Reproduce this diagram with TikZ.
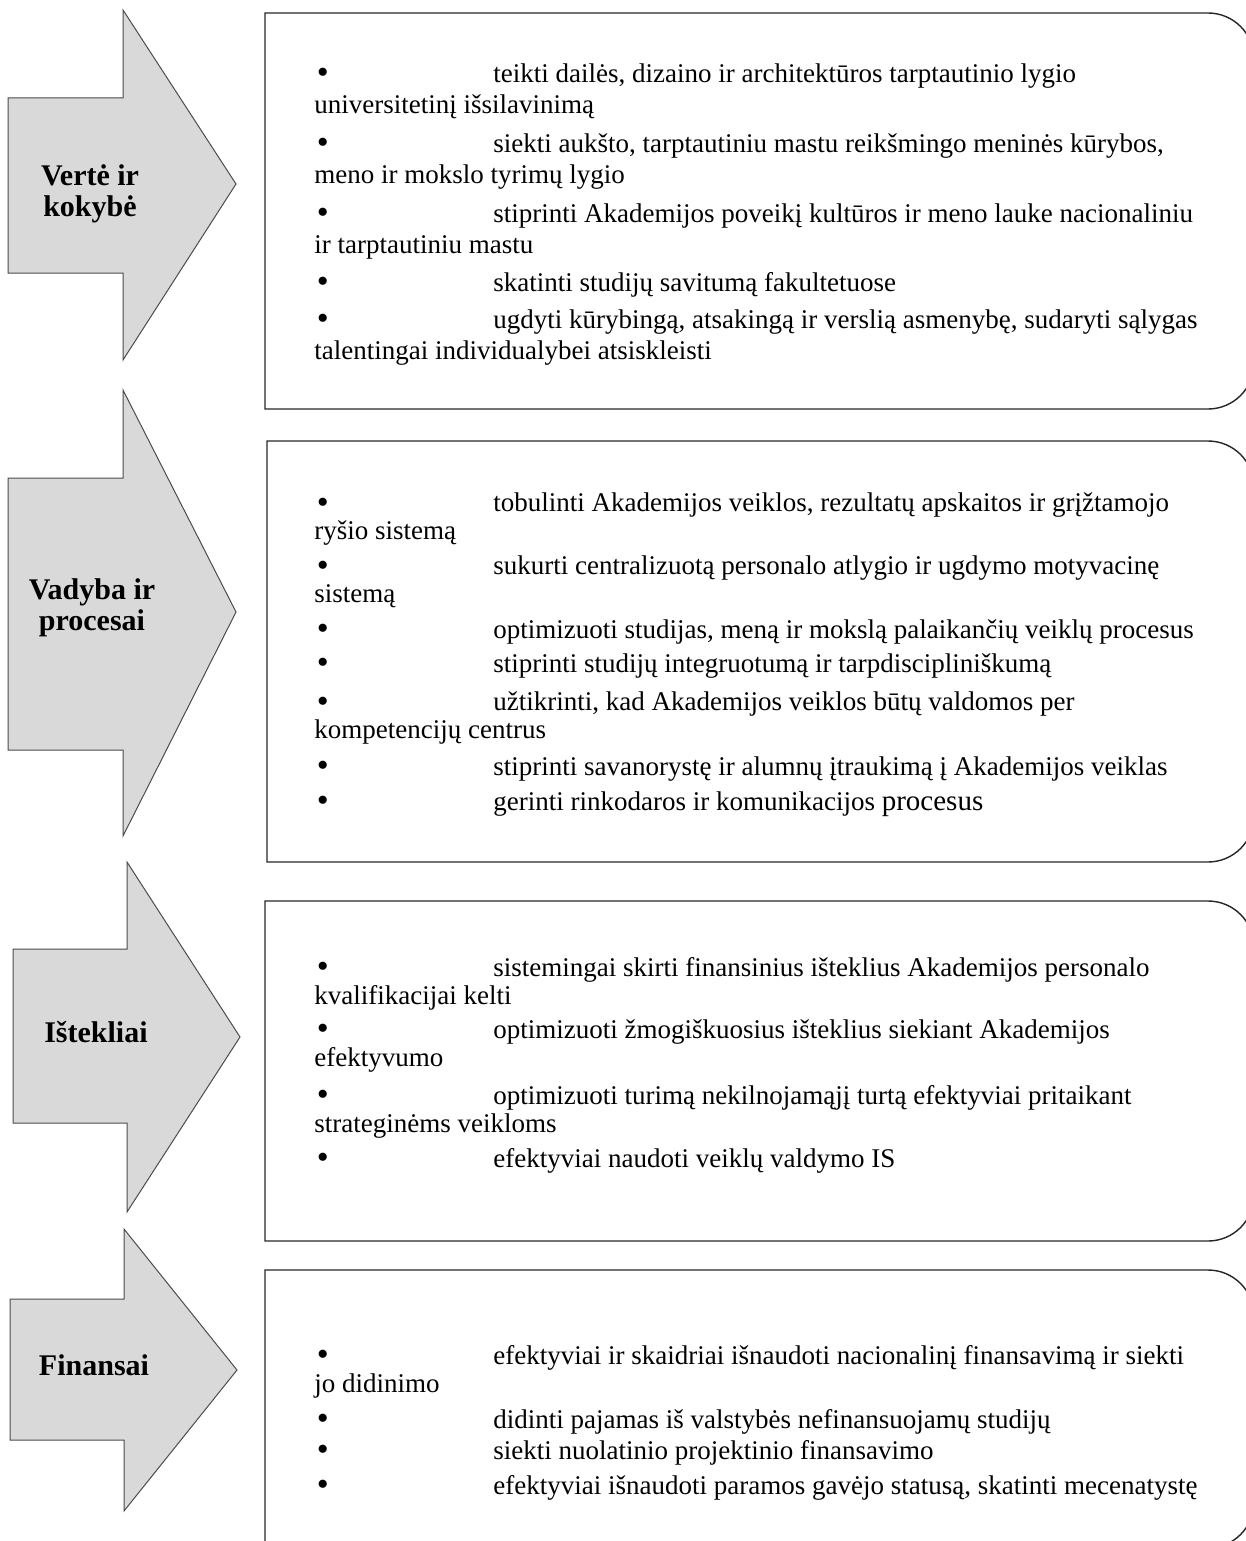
\documentclass[tikz,border=0pt]{standalone}
\usepackage{fontspec}
\setmainfont{Liberation Serif}
\definecolor{arrowgray}{HTML}{D9D9D9}
\newcommand{\bul}{\makebox[89.5pt][l]{\hspace{1.2pt}\raisebox{-0.8pt}{\fontsize{17}{17}\selectfont\textbullet}}}
\begin{document}
\begin{tikzpicture}[x=0.5pt,y=-0.5pt,
  lbl/.style={font=\fontsize{15}{15.5}\selectfont\bfseries,align=center,inner sep=0pt},
  itm/.style={anchor=base west,align=left,inner sep=0pt},
  arr/.style={fill=arrowgray,draw=black!70,line width=0.5pt},
  box/.style={draw=black!85,line width=0.7pt}]
 \useasboundingbox (0,0) rectangle (1246,1541);
 \clip (0,0) rectangle (1246,1541);

 \draw[arr] (8,98) -- (123,98) -- (123,10) -- (236,184) -- (123,360) -- (123,273) -- (8,273) -- cycle;
 \draw[arr] (8,478) -- (123,478) -- (123,390) -- (236,612) -- (123,836) -- (123,750) -- (8,750) -- cycle;
 \draw[arr] (13,949) -- (127,949) -- (127,862) -- (240,1037) -- (127,1212) -- (127,1123) -- (13,1123) -- cycle;
 \draw[arr] (10,1299) -- (124,1299) -- (124,1229) -- (237,1370) -- (124,1511) -- (124,1440) -- (10,1440) -- cycle;

 \node (vk) at (90,194) [lbl] {Vertė ir\\kokybė};
 \node (vp) at (92,608) [lbl] {Vadyba ir\\procesai};
 \node (is) at (96,1032) [lbl] {Ištekliai};
 \node (fi) at (94,1365) [lbl] {Finansai};

 \draw[box] (265,13) -- (1208,13) arc[start angle=90,end angle=0,radius=23pt] -- (1254,363) arc[start angle=0,end angle=-90,radius=23pt] -- (265,409) -- cycle;
 \draw[box] (267,441) -- (1208,441) arc[start angle=90,end angle=0,radius=23pt] -- (1254,816) arc[start angle=0,end angle=-90,radius=23pt] -- (267,862) -- cycle;
 \draw[box] (265,901) -- (1208,901) arc[start angle=90,end angle=0,radius=23pt] -- (1254,1195) arc[start angle=0,end angle=-90,radius=23pt] -- (265,1241) -- cycle;
 \draw[box] (265,1270) -- (1208,1270) arc[start angle=90,end angle=0,radius=23pt] -- (1254,1502) arc[start angle=0,end angle=-90,radius=23pt] -- (265,1548) -- cycle;

 \begin{scope}[every node/.append style={font=\fontsize{13.5}{15.5}\selectfont}]
 \node (v1) at (314,113) [itm] {\bul teikti dailės, dizaino ir architektūros tarptautinio lygio\\universitetinį išsilavinimą};
 \node (v2) at (314,183) [itm] {\bul siekti aukšto, tarptautiniu mastu reikšmingo meninės kūrybos,\\meno ir mokslo tyrimų lygio};
 \node (v3) at (314,253) [itm] {\bul stiprinti Akademijos poveikį kultūros ir meno lauke nacionaliniu\\ir tarptautiniu mastu};
 \node (v4) at (314,291) [itm] {\bul skatinti studijų savitumą fakultetuose};
 \node (v5) at (314,359) [itm] {\bul ugdyti kūrybingą, atsakingą ir verslią asmenybę, sudaryti sąlygas\\talentingai individualybei atsiskleisti};
 \end{scope}

 \begin{scope}[every node/.append style={font=\fontsize{13.5}{13.75}\selectfont}]
 \node (p1) at (314,539) [itm] {\bul tobulinti Akademijos veiklos, rezultatų apskaitos ir grįžtamojo\\ryšio sistemą};
 \node (p2) at (314,602) [itm] {\bul sukurti centralizuotą personalo atlygio ir ugdymo motyvacinę\\sistemą};
 \node (p3) at (314,638) [itm] {\bul optimizuoti studijas, meną ir mokslą palaikančių veiklų procesus};
 \node (p4) at (314,672) [itm] {\bul stiprinti studijų integruotumą ir tarpdiscipliniškumą};
 \node (p5) at (314,738) [itm] {\bul užtikrinti, kad Akademijos veiklos būtų valdomos per\\kompetencijų centrus};
 \node (p6) at (314,775) [itm] {\bul stiprinti savanorystę ir alumnų įtraukimą į Akademijos veiklas};
 \node (p7) at (314,810) [itm] {\bul gerinti rinkodaros ir komunikacijos {\fontsize{14.5}{14}\selectfont procesus}};
 \end{scope}

 \begin{scope}[every node/.append style={font=\fontsize{13.5}{14}\selectfont}]
 \node (i1) at (314,1004) [itm] {\bul sistemingai skirti finansinius išteklius Akademijos personalo\\kvalifikacijai kelti};
 \node (i2) at (314,1066) [itm] {\bul optimizuoti žmogiškuosius išteklius siekiant Akademijos\\efektyvumo};
 \node (i3) at (314,1132) [itm] {\bul optimizuoti turimą nekilnojamąjį turtą efektyviai pritaikant\\strateginėms veikloms};
 \node (i4) at (314,1167) [itm] {\bul efektyviai naudoti veiklų valdymo IS};

 \node (f1) at (314,1392) [itm] {\bul efektyviai ir skaidriai išnaudoti nacionalinį finansavimą ir siekti\\jo didinimo};
 \node (f2) at (314,1428) [itm] {\bul didinti pajamas iš valstybės nefinansuojamų studijų};
 \node (f3) at (314,1459) [itm] {\bul siekti nuolatinio projektinio finansavimo};
 \node (f4) at (314,1494) [itm] {\bul efektyviai išnaudoti paramos gavėjo statusą, skatinti mecenatystę};
 \end{scope}
\end{tikzpicture}
\end{document}
